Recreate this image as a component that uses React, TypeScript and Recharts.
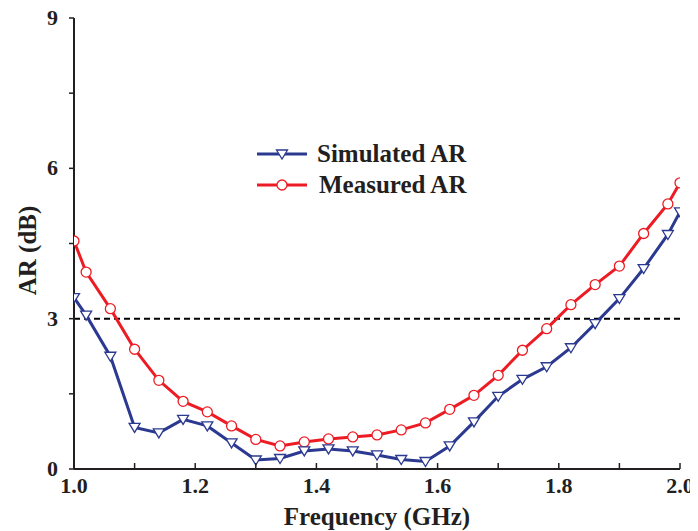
import React from 'react';
import { LineChart, Line, XAxis, YAxis, ReferenceLine } from 'recharts';

const freq = [1.0, 1.02, 1.06, 1.10, 1.14, 1.18, 1.22, 1.26, 1.30, 1.34, 1.38, 1.42, 1.46, 1.50, 1.54, 1.58, 1.62, 1.66, 1.70, 1.74, 1.78, 1.82, 1.86, 1.90, 1.94, 1.98, 2.0];
const measured = [4.55, 3.93, 3.20, 2.39, 1.77, 1.35, 1.14, 0.86, 0.59, 0.46, 0.54, 0.60, 0.64, 0.68, 0.78, 0.92, 1.19, 1.47, 1.87, 2.37, 2.80, 3.28, 3.68, 4.05, 4.70, 5.29, 5.71];
const simulated = [3.42, 3.07, 2.25, 0.83, 0.72, 0.99, 0.86, 0.52, 0.18, 0.21, 0.36, 0.40, 0.36, 0.28, 0.19, 0.15, 0.46, 0.94, 1.45, 1.79, 2.04, 2.42, 2.90, 3.40, 4.00, 4.68, 5.13];

const xTicks = [1.0, 1.1, 1.2, 1.3, 1.4, 1.5, 1.6, 1.7, 1.8, 1.9, 2.0];
const xLabels = ['1.0', '1.2', '1.4', '1.6', '1.8', '2.0'];
const yTicks = [0, 1.5, 3, 4.5, 6, 7.5, 9];
const yLabels = ['0', '3', '6', '9'];
const rightTicks = [0, 0.9, 1.8, 2.7, 3.6, 4.5, 5.4, 6.3, 7.2, 8.1, 9];
const seriesNames = ['Simulated AR', 'Measured AR'];

const data = freq.map((f, i) => ({ f, measured: measured[i], simulated: simulated[i] }));

const FONT = 'Liberation Serif, Times New Roman, serif';
const BLUE = '#2b3990';
const RED = '#ed1c24';
const AX = '#231f20';
const txt = { fontFamily: FONT, fontWeight: 700 } as React.CSSProperties;

const BottomTick = (props: any) => {
  const { x, y, payload } = props;
  const lbl = payload.value.toFixed(1);
  const show = xLabels.includes(lbl);
  return (
    <g>
      <line x1={x} x2={x} y1={y} y2={y - 6} stroke={AX} strokeWidth={1.5} />
      {show && (
        <text x={x} y={y + 24} textAnchor="middle" style={txt} fontSize={22} fill={AX}>
          {lbl}
        </text>
      )}
    </g>
  );
};

const TopTick = (props: any) => {
  const { x, y } = props;
  return <line x1={x} x2={x} y1={y} y2={y + 6} stroke={AX} strokeWidth={1.5} />;
};

const LeftTick = (props: any) => {
  const { x, y, payload } = props;
  const lbl = String(payload.value);
  const show = yLabels.includes(lbl);
  return (
    <g>
      <line x1={x} x2={x - 5} y1={y} y2={y} stroke={AX} strokeWidth={1.5} />
      {show && (
        <text x={x - 16} y={y + 7} textAnchor="end" style={txt} fontSize={22} fill={AX}>
          {lbl}
        </text>
      )}
    </g>
  );
};

const RightTick = (props: any) => {
  const { x, y } = props;
  return <line x1={x} x2={x - 6} y1={y} y2={y} stroke={AX} strokeWidth={1.5} />;
};

const TriDot = (props: any) => {
  const { cx, cy, index } = props;
  if (cx == null || cy == null) return <g key={index} />;
  const w = 5.5;
  return (
    <polygon
      key={index}
      points={`${cx - w},${cy - 4} ${cx + w},${cy - 4} ${cx},${cy + 5}`}
      fill="#fff"
      stroke={BLUE}
      strokeWidth={1.3}
    />
  );
};

const CircDot = (props: any) => {
  const { cx, cy, index } = props;
  if (cx == null || cy == null) return <g key={index} />;
  return <circle key={index} cx={cx} cy={cy} r={5} fill="#fff" stroke={RED} strokeWidth={1.3} />;
};

const LegendBox = () => (
  <svg width={240} height={62} style={{ position: 'absolute', left: 245, top: 140, overflow: 'visible' }}>
    <line x1={4} x2={54} y1={16} y2={16} stroke={BLUE} strokeWidth={3} />
    <polygon points={`${29 - 5.5},${12} ${29 + 5.5},${12} ${29},${21}`} fill="#fff" stroke={BLUE} strokeWidth={1.3} />
    <text x={64} y={24} style={txt} fontSize={25} fill={AX}>{seriesNames[0]}</text>
    <line x1={4} x2={54} y1={47} y2={47} stroke={RED} strokeWidth={3} />
    <circle cx={29} cy={47} r={5} fill="#fff" stroke={RED} strokeWidth={1.3} />
    <text x={66} y={55} style={txt} fontSize={25} fill={AX}>{seriesNames[1]}</text>
  </svg>
);

export default function App() {
  return (
    <div style={{ width: 690, height: 533, position: 'relative', marginTop: -10 }}>
      <LineChart width={690} height={533} data={data} margin={{ top: 20, right: 18, bottom: 12, left: 10 }}>
        <XAxis
          dataKey="f"
          type="number"
          domain={[1, 2]}
          ticks={xTicks}
          interval={0}
          tickSize={0}
          tickMargin={0}
          tickLine={false}
          tick={<BottomTick />}
          height={50}
          axisLine={{ stroke: AX, strokeWidth: 2 }}
          allowDataOverflow
          label={{
            content: (p: any) => {
              const vb = p.viewBox;
              return (
                <text x={vb.x + vb.width / 2} y={vb.y + 56} textAnchor="middle" style={txt} fontSize={25} fill={AX}>
                  Frequency (GHz)
                </text>
              );
            },
          }}
        />
        <XAxis
          xAxisId="top"
          orientation="top"
          dataKey="f"
          type="number"
          domain={[1, 2]}
          ticks={xTicks}
          interval={0}
          tickSize={0}
          tickMargin={0}
          tickLine={false}
          tick={<TopTick />}
          height={0}
          axisLine={{ stroke: AX, strokeWidth: 2 }}
        />
        <YAxis
          type="number"
          domain={[0, 9]}
          ticks={yTicks}
          interval={0}
          tickSize={0}
          tickMargin={0}
          tickLine={false}
          tick={<LeftTick />}
          width={56}
          axisLine={{ stroke: AX, strokeWidth: 2 }}
          label={{
            content: (p: any) => {
              const vb = p.viewBox;
              const cx = 19;
              const cy = vb.y + vb.height / 2 + 7;
              return (
                <text x={cx} y={cy} transform={`rotate(-90 ${cx} ${cy})`} textAnchor="middle" dominantBaseline="central" style={txt} fontSize={25} fill={AX}>
                  AR (dB)
                </text>
              );
            },
          }}
        />
        <YAxis
          yAxisId="right"
          orientation="right"
          type="number"
          domain={[0, 9]}
          ticks={rightTicks}
          interval={0}
          tickSize={0}
          tickMargin={0}
          tickLine={false}
          tick={<RightTick />}
          width={0}
          axisLine={{ stroke: AX, strokeWidth: 2 }}
        />
        <ReferenceLine y={3} stroke="#000" strokeWidth={2} strokeDasharray="6 4" />
        <Line
          dataKey="measured"
          name={seriesNames[1]}
          stroke={RED}
          strokeWidth={3}
          dot={<CircDot />}
          activeDot={false}
          isAnimationActive={false}
        />
        <Line
          dataKey="simulated"
          name={seriesNames[0]}
          stroke={BLUE}
          strokeWidth={3}
          dot={<TriDot />}
          activeDot={false}
          isAnimationActive={false}
        />
      </LineChart>
      <LegendBox />
    </div>
  );
}
